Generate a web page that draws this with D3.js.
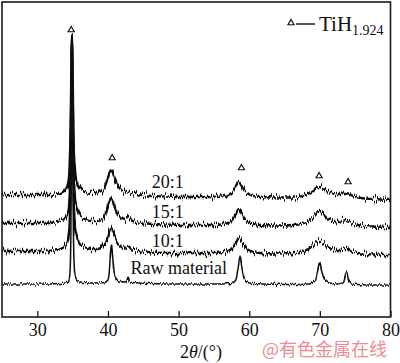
<!DOCTYPE html>
<html lang="en">
    <head>
        <meta charset="utf-8">
        <title>XRD patterns</title>
        <script type="text/javascript" src="https://d3js.org/d3.v7.min.js"></script>
        <style type="text/css">
            body { margin: 0; background: #fff; }
            svg { display: block; }
            text { font-family: "Liberation Serif", "Times New Roman", serif; fill: #111; }
        </style>
    </head>
    <body>
        <script type="text/javascript">

            // 2theta (deg) / intensity (a.u.)
            var rawMaterial = [[25,33],[28,33],[31,33],[33,33.5],[34,34],[34.4,36],[34.6,42],[34.75,80],[34.85,200],[34.92,282],
                [35.0,200],[35.1,90],[35.25,48],[35.45,39],[35.8,36],[36.5,34.5],[38,34],[39.5,34.5],[40.0,37],[40.2,46],
                [40.4,68],[40.5,72],[40.65,62],[40.85,46],[41.2,38],[41.7,35.5],[42.5,35],[42.75,38],[42.85,40],[43.0,36],
                [43.5,34.5],[46,33.5],[50,33],[55,33],[57.5,33.5],[58.1,37],[58.4,48],[58.7,62],[58.95,50],[59.25,39],
                [59.6,35],[60.5,33.5],[65,32.5],[68.5,33],[69.4,37],[69.75,48],[69.98,54],[70.25,46],[70.7,37],[71.3,34],
                [72.5,33],[73.3,35],[73.8,45],[74.05,37],[74.5,33],[77,32],[80,32]];

            var ratio10 = [[25,66],[28,66],[31,66],[32.5,66.5],[33.3,68],[33.8,70],[34.2,74],[34.45,82],[34.6,100],[34.73,150],
                [34.83,230],[34.9,280],[34.97,235],[35.07,160],[35.2,105],[35.4,88],[35.7,79],[36.1,73],[36.7,70],[37.5,68],
                [38.5,68],[39.2,70],[39.7,75],[40.0,81],[40.25,87],[40.45,89],[40.7,86],[41.0,80],[41.4,74],[41.9,70],
                [42.4,68.5],[42.85,71],[43.3,68],[44,66.5],[45.5,65],[48,64],[52,64],[55,64],[56.5,65],[57.3,67],
                [57.9,72],[58.25,77],[58.5,80],[58.8,77],[59.2,72],[59.7,68],[60.4,65.5],[61.5,64],[64,63.5],[66.5,64],
                [67.5,65.5],[68.4,68],[69.1,72],[69.6,75.5],[70.0,77],[70.4,75],[70.9,71.5],[71.5,68.5],[72.2,67],[72.9,67],
                [73.4,68.5],[73.8,69],[74.2,67.5],[74.8,65],[75.8,63.5],[77.5,62.5],[80,62]];

            var ratio15 = [[25,94],[28,94],[31,94],[32.5,94.5],[33.3,96],[33.8,98],[34.2,102],[34.45,110],[34.6,128],[34.73,175],
                [34.83,245],[34.9,280],[34.97,250],[35.07,185],[35.2,133],[35.4,116],[35.7,107],[36.1,101],[36.7,98],[37.5,96],
                [38.5,96],[39.2,98],[39.7,104],[40.0,111],[40.25,117],[40.45,119],[40.7,116],[41.0,109],[41.4,103],[41.9,99],
                [42.4,97],[42.85,99],[43.3,96.5],[44,95],[45.5,93.5],[48,92.5],[52,92],[55,92],[56.5,93],[57.3,95],
                [57.9,100],[58.25,106],[58.5,109],[58.8,106],[59.2,100],[59.7,96],[60.4,93.5],[61.5,92],[64,91.5],[66.5,92],
                [67.5,93.5],[68.4,96],[69.1,100],[69.6,103.5],[70.0,105],[70.4,103],[70.9,99.5],[71.5,96.5],[72.2,95],[72.9,95.5],
                [73.4,96.5],[73.8,97],[74.2,95.5],[74.8,93],[75.8,91.5],[77.5,90.5],[80,90]];

            var ratio20 = [[25,122],[28,122],[31,122],[32.5,122.5],[33.3,124],[33.8,126],[34.2,130],[34.45,138],[34.6,156],[34.73,200],
                [34.83,262],[34.9,282],[34.97,265],[35.07,210],[35.2,160],[35.4,143],[35.7,134],[36.1,129],[36.7,126],[37.5,124],
                [38.5,124],[39.2,126],[39.7,132],[40.0,139],[40.25,145],[40.45,147],[40.7,144],[41.0,137],[41.4,131],[41.9,127],
                [42.4,125],[42.85,125.5],[43.3,124],[44,123],[45.5,121.5],[48,120.5],[52,120],[55,120],[56.5,121],[57.3,123],
                [57.9,127.5],[58.25,132],[58.5,135],[58.8,132.5],[59.2,127.5],[59.7,124],[60.4,121.5],[61.5,120],[64,119.5],[66.5,119.5],
                [67.5,121],[68.4,123.5],[69.1,127],[69.6,129.5],[70.0,130],[70.4,128.5],[70.9,126],[71.5,124],[72.2,123],[72.9,123],
                [73.4,124],[73.8,124],[74.2,123],[74.8,120.5],[75.8,119],[77.5,118],[80,117]];

            var seriesNames = ["Raw material", "10:1", "15:1", "20:1"];
            var seriesData = [rawMaterial, ratio10, ratio15, ratio20];
            // where each name sits: [2theta, intensity]
            var labelSpots = [[43.2, 43], [46.2, 70], [46.2, 99], [46.2, 129]];

            // TiH1.924 reflections marked with triangles
            var markTheta = [34.8, 40.6, 58.9, 69.9, 74.0];
            var markInt = [287, 159, 149, 141, 135];

            var xTicks = [30, 40, 50, 60, 70, 80];

            var w = 400;
            var h = 363;
            var padL = 2, padR = 390.5, padT = 2, padB = 317;

            var xScale = d3.scaleLinear().domain([25, 80]).range([padL, padR]);
            var yScale = d3.scaleLinear().domain([0, 315]).range([padB, padT]);

            var svg = d3.select("body").append("svg")
                .attr("width", w)
                .attr("height", h);

            // noise filter: only vertical jitter, to get the grainy look of the scans
            var defs = svg.append("defs");
            function noiseFilter(id, amount, seed) {
                var f = defs.append("filter").attr("id", id)
                    .attr("filterUnits", "userSpaceOnUse")
                    .attr("x", 0).attr("y", 0).attr("width", w).attr("height", h);
                f.append("feTurbulence").attr("type", "fractalNoise")
                    .attr("baseFrequency", "0.9 0.04").attr("numOctaves", 2)
                    .attr("seed", seed).attr("result", "n");
                f.append("feColorMatrix").attr("in", "n").attr("type", "matrix")
                    .attr("values", "0 0 0 0 0.5  0 1 0 0 0  0 0 0 0 0  0 0 0 0 1")
                    .attr("result", "m");
                f.append("feDisplacementMap").attr("in", "SourceGraphic").attr("in2", "m")
                    .attr("scale", amount).attr("xChannelSelector", "R").attr("yChannelSelector", "G");
            }
            noiseFilter("jitterRaw", 5, 3);
            noiseFilter("jitterMill", 11, 7);

            var line = d3.line()
                .x(function(d) { return xScale(d[0]); })
                .y(function(d) { return yScale(d[1]); })
                .curve(d3.curveMonotoneX);

            // Trazas
            svg.selectAll("path.scan")
                .data(seriesData)
                .enter()
                .append("path")
                .attr("class", "scan")
                .attr("d", line)
                .attr("fill", "none")
                .attr("stroke", "#0d0d0d")
                .attr("stroke-width", function(d, i) { return i === 0 ? 1.5 : 2.3; })
                .attr("stroke-linejoin", "round")
                .attr("filter", function(d, i) { return i === 0 ? "url(#jitterRaw)" : "url(#jitterMill)"; });

            // series names
            svg.selectAll("text.name")
                .data(seriesNames)
                .enter()
                .append("text")
                .attr("class", "name")
                .attr("x", function(d, i) { return xScale(labelSpots[i][0]); })
                .attr("y", function(d, i) { return yScale(labelSpots[i][1]); })
                .style("font-size", "18px")
                .text(function(d) { return d; });

            // triangles
            var tri = d3.symbol().type(d3.symbolTriangle).size(16);
            svg.selectAll("path.mark")
                .data(markTheta)
                .enter()
                .append("path")
                .attr("class", "mark")
                .attr("d", tri)
                .attr("transform", function(d, i) {
                    return "translate(" + xScale(d) + "," + yScale(markInt[i]) + ")";
                })
                .attr("fill", "#fff")
                .attr("stroke", "#111")
                .attr("stroke-width", 1.2);

            // frame
            svg.append("rect")
                .attr("x", padL).attr("y", padT)
                .attr("width", padR - padL).attr("height", padB - padT)
                .attr("fill", "none")
                .attr("stroke", "#1a1a1a")
                .attr("stroke-width", 1.6);

            // bottom axis, ticks inside
            var xAxis = d3.axisBottom(xScale)
                .tickValues(xTicks)
                .tickSize(-6)
                .tickPadding(6)
                .tickFormat(d3.format("d"));
            var gx = svg.append("g")
                .attr("transform", "translate(0," + padB + ")")
                .call(xAxis);
            gx.select(".domain").remove();
            gx.selectAll(".tick line").attr("stroke", "#1a1a1a").attr("stroke-width", 1.3);
            gx.selectAll(".tick text")
                .style("font-family", "'Liberation Serif', serif")
                .style("font-size", "18px")
                .style("fill", "#111");

            // axis title
            var title = svg.append("text")
                .attr("x", 180)
                .attr("y", 358)
                .style("font-family", "'Liberation Serif', serif")
                .style("font-size", "18px");
            title.append("tspan").text("2");
            title.append("tspan").style("font-style", "italic").text("θ");
            title.append("tspan").text("/(°)");

            // legend
            svg.append("path")
                .attr("d", tri)
                .attr("transform", "translate(291,23)")
                .attr("fill", "#fff")
                .attr("stroke", "#111")
                .attr("stroke-width", 1.2);
            svg.append("line")
                .attr("x1", 296).attr("x2", 315)
                .attr("y1", 24).attr("y2", 24)
                .attr("stroke", "#111")
                .attr("stroke-width", 1.4);
            var leg = svg.append("text")
                .attr("x", 319)
                .attr("y", 31)
                .style("font-size", "21px");
            leg.append("tspan").text("TiH");
            leg.append("tspan").style("font-size", "14px").attr("dy", 4).text("1.924");

            // watermark
            svg.append("text")
                .attr("x", 262)
                .attr("y", 356)
                .style("font-family", "'Noto Sans CJK SC', sans-serif")
                .style("font-size", "18px")
                .style("fill", "#ee8c95")
                .text("@有色金属在线");
        </script>
    </body>
</html>
